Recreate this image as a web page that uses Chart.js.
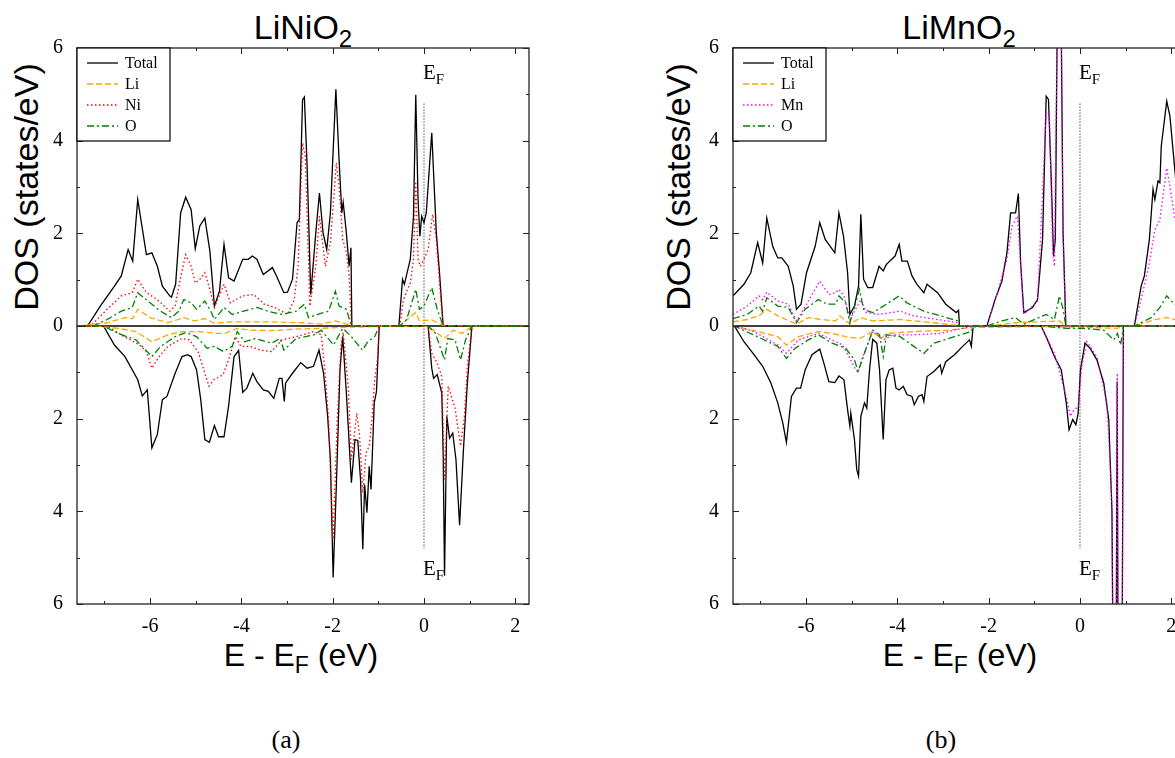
<!DOCTYPE html>
<html>
<head>
<meta charset="utf-8">
<script src="https://cdn.jsdelivr.net/npm/chart.js@4.4.0/dist/chart.umd.min.js"></script>
<style>
    html, body { margin: 0; padding: 0; background: #fff; width: 1175px; height: 758px; overflow: hidden; position: relative; }
    .panel { position: absolute; top: 0; width: 560px; height: 640px; }
    .title { position: absolute; top: 10px; font-family: 'Liberation Sans', Arial, sans-serif; font-size: 34px; line-height: 34px; white-space: nowrap; transform: translateX(-50%); }
    .title sub { font-size: 24px; line-height: 0; vertical-align: -8px; }
    .xlabel { position: absolute; top: 639px; font-family: 'Liberation Sans', Arial, sans-serif; font-size: 32px; line-height: 32px; white-space: nowrap; transform: translateX(-50%); }
    .xlabel sub { font-size: 23px; line-height: 0; vertical-align: -7px; }
    .ylabel { position: absolute; top: 187px; font-family: 'Liberation Sans', Arial, sans-serif; font-size: 34px; line-height: 34px; white-space: nowrap; transform: translate(-50%, -50%) rotate(-90deg); }
    .caption { position: absolute; top: 727px; font-family: 'Liberation Serif', 'Times New Roman', serif; font-size: 26px; line-height: 26px; transform: translateX(-50%); }
</style>
</head>
<body>
<div class="title" style="left:303px">LiNiO<sub>2</sub></div>
<div class="title" style="left:959px">LiMnO<sub>2</sub></div>
<div class="ylabel" style="left:26px">DOS (states/eV)</div>
<div class="ylabel" style="left:678px">DOS (states/eV)</div>
<div class="xlabel" style="left:301px">E - E<sub>F</sub> (eV)</div>
<div class="xlabel" style="left:960px">E - E<sub>F</sub> (eV)</div>
<div class="caption" style="left:286px">(a)</div>
<div class="caption" style="left:941px">(b)</div>

<div class="panel" style="left:0px"><canvas id="dosNi" width="560" height="640"></canvas></div>
<div class="panel" style="left:656px"><canvas id="dosMn" width="560" height="640"></canvas></div>

<script>
// axis limits and tick labels
const energyRange = [-7.6, 2.3];
const dosRange = [-6, 6];
const fermiLine = [[0, 4.8], [0, -4.8]];
const serifFamily = '"Liberation Serif", "Times New Roman", serif';

// ---- LiNiO2, spin up: [E - EF, DOS] ----
const niTotalUp = [[-7.6,0],[-7.37,0],[-7.09,0.43],[-6.78,0.86],[-6.63,1.08],[-6.48,1.65],[-6.38,1.40],[-6.27,2.73],[-6.08,1.54],[-5.96,1.58],[-5.84,1.29],[-5.73,0.86],[-5.57,0.65],[-5.53,0.62],[-5.44,0.90],[-5.33,2.44],[-5.22,2.78],[-5.10,2.51],[-5.01,1.67],[-4.91,2.16],[-4.80,2.33],[-4.69,1.62],[-4.59,0.43],[-4.48,0.75],[-4.38,1.76],[-4.28,1.04],[-4.16,0.97],[-3.97,1.44],[-3.85,1.44],[-3.76,1.51],[-3.66,1.44],[-3.52,1.11],[-3.32,1.26],[-3.23,1.08],[-3.07,0.72],[-2.99,0.73],[-2.88,1.01],[-2.78,2.23],[-2.73,2.30],[-2.66,4.88],[-2.62,4.94],[-2.56,3.45],[-2.48,0.68],[-2.37,2.01],[-2.29,2.87],[-2.21,2.01],[-2.13,1.65],[-2.05,2.44],[-1.93,5.11],[-1.86,3.59],[-1.80,2.44],[-1.77,2.67],[-1.70,2.01],[-1.64,1.29],[-1.60,1.69],[-1.58,0],[-0.55,0],[-0.47,1.01],[-0.43,0.90],[-0.30,1.44],[-0.23,2.37],[-0.18,4.99],[-0.13,2.73],[-0.09,1.94],[-0.05,2.37],[0,2.23],[0.05,2.44],[0.17,4.17],[0.27,2.01],[0.34,1.15],[0.42,0],[2.3,0]];
const niLiUp = [[-7.6,0],[-7.48,0.01],[-6.94,0.07],[-6.55,0.18],[-6.38,0.16],[-6.27,0.36],[-6.0,0.18],[-5.61,0.07],[-5.26,0.18],[-5.02,0.11],[-4.80,0.16],[-4.59,0.06],[-4.20,0.09],[-3.42,0.09],[-2.64,0.07],[-2.25,0.04],[-1.94,0.11],[-1.59,0.01],[-0.53,0.01],[-0.18,0.29],[-0.10,0.11],[0.17,0.13],[0.42,0.01],[2.3,0]];
const niNiUp = [[-7.6,0],[-7.3,0],[-6.94,0.36],[-6.63,0.65],[-6.39,0.72],[-6.27,1.01],[-6.08,0.72],[-5.84,0.57],[-5.57,0.32],[-5.45,0.43],[-5.34,1.01],[-5.22,1.54],[-5.10,1.29],[-5.01,0.93],[-4.91,1.01],[-4.80,1.15],[-4.69,0.79],[-4.59,0.40],[-4.38,0.90],[-4.24,0.50],[-3.97,0.65],[-3.73,0.68],[-3.50,0.47],[-3.27,0.40],[-2.99,0.25],[-2.84,0.57],[-2.76,1.29],[-2.66,3.95],[-2.60,3.66],[-2.50,0.43],[-2.37,1.29],[-2.29,2.37],[-2.16,1.29],[-2.05,1.80],[-1.92,3.52],[-1.86,3.02],[-1.78,1.87],[-1.70,1.58],[-1.64,1.08],[-1.59,0],[-0.53,0],[-0.45,0.57],[-0.30,0.93],[-0.23,1.44],[-0.18,3.12],[-0.13,1.44],[-0.08,1.29],[0,1.44],[0.09,1.65],[0.19,2.41],[0.27,1.87],[0.37,0.57],[0.42,0],[2.3,0]];
const niOUp = [[-7.6,0],[-7.25,0],[-6.94,0.14],[-6.63,0.32],[-6.39,0.40],[-6.27,0.72],[-6.0,0.50],[-5.77,0.32],[-5.53,0.18],[-5.37,0.32],[-5.26,0.57],[-5.10,0.50],[-4.98,0.36],[-4.80,0.54],[-4.67,0.32],[-4.59,0.14],[-4.38,0.40],[-4.20,0.25],[-3.81,0.36],[-3.66,0.40],[-3.42,0.32],[-3.11,0.25],[-2.80,0.32],[-2.62,0.47],[-2.53,0.18],[-2.33,0.25],[-2.09,0.32],[-1.94,0.75],[-1.86,0.43],[-1.70,0.36],[-1.59,0],[-0.53,0],[-0.38,0.14],[-0.18,0.79],[-0.10,0.36],[0,0.43],[0.17,0.83],[0.29,0.36],[0.42,0],[2.3,0]];

// ---- LiNiO2, spin down (magnitudes, plotted below zero) ----
const niTotalDown = [[-7.6,0],[-7.02,0],[-6.78,0.41],[-6.55,0.66],[-6.27,1.16],[-6.17,1.51],[-6.06,1.38],[-5.96,2.63],[-5.84,2.34],[-5.73,1.59],[-5.63,1.52],[-5.45,1.02],[-5.30,0.66],[-5.18,0.62],[-5.10,0.66],[-4.98,0.95],[-4.89,1.59],[-4.80,2.45],[-4.70,2.51],[-4.59,2.15],[-4.50,2.39],[-4.38,2.39],[-4.28,1.73],[-4.16,0.66],[-4.06,0.53],[-3.97,1.43],[-3.88,1.34],[-3.75,1.02],[-3.66,1.20],[-3.52,1.38],[-3.41,1.41],[-3.29,1.56],[-3.17,1.13],[-3.11,1.13],[-3.06,1.63],[-3.03,1.23],[-2.88,1.02],[-2.70,0.79],[-2.56,0.91],[-2.42,0.87],[-2.30,0.52],[-2.20,1.02],[-2.11,1.95],[-2.05,2.88],[-1.99,5.43],[-1.92,3.46],[-1.84,0.95],[-1.78,0.22],[-1.70,1.45],[-1.59,3.38],[-1.51,2.45],[-1.45,2.47],[-1.39,3.31],[-1.34,4.82],[-1.30,3.42],[-1.25,4.03],[-1.20,3.03],[-1.16,3.53],[-1.09,1.66],[-1.04,1.41],[-0.98,0],[0.09,0],[0.17,0.91],[0.21,1.13],[0.29,1.05],[0.39,1.45],[0.42,2.74],[0.45,5.39],[0.50,1.95],[0.56,2.42],[0.63,2.31],[0.70,2.88],[0.78,4.30],[0.86,2.74],[0.95,1.23],[1.05,0],[2.3,0]];
const niLiDown = [[-7.6,0],[-7.17,0],[-6.70,0.05],[-6.31,0.12],[-5.96,0.34],[-5.61,0.19],[-5.30,0.12],[-4.91,0.12],[-4.59,0.16],[-4.36,0.16],[-4.09,0.05],[-3.81,0.09],[-3.34,0.10],[-2.88,0.07],[-2.25,0.05],[-1.78,0.03],[-0.98,0.01],[0.09,0.01],[0.45,0.27],[0.64,0.09],[0.84,0.16],[1.05,0.01],[2.3,0]];
const niNiDown = [[-7.6,0],[-6.94,0],[-6.63,0.19],[-6.23,0.41],[-6.08,0.55],[-5.96,0.91],[-5.80,0.66],[-5.61,0.44],[-5.30,0.27],[-5.14,0.30],[-4.95,0.55],[-4.80,1.02],[-4.71,1.30],[-4.59,1.15],[-4.40,1.05],[-4.28,0.73],[-4.13,0.23],[-4.01,0.44],[-3.81,0.44],[-3.58,0.52],[-3.34,0.55],[-3.11,0.30],[-2.80,0.23],[-2.41,0.12],[-2.25,0.19],[-2.17,0.95],[-2.09,2.02],[-1.99,4.60],[-1.90,2.02],[-1.82,0.44],[-1.77,0.14],[-1.66,1.30],[-1.59,2.88],[-1.47,1.88],[-1.41,2.38],[-1.34,3.60],[-1.27,2.74],[-1.20,2.59],[-1.14,2.02],[-1.08,1.16],[-1.02,0.73],[-0.98,0],[0.09,0],[0.17,0.59],[0.29,0.80],[0.39,1.09],[0.45,3.31],[0.53,1.30],[0.60,1.52],[0.68,1.77],[0.80,2.59],[0.88,2.02],[0.95,0.87],[1.05,0],[2.3,0]];
const niODown = [[-7.6,0],[-7.02,0],[-6.70,0.16],[-6.31,0.30],[-5.96,0.66],[-5.77,0.44],[-5.45,0.23],[-5.22,0.14],[-4.98,0.23],[-4.75,0.48],[-4.59,0.44],[-4.40,0.55],[-4.20,0.44],[-4.09,0.12],[-3.93,0.34],[-3.70,0.27],[-3.34,0.37],[-3.15,0.27],[-3.07,0.52],[-2.80,0.27],[-2.41,0.19],[-2.25,0.09],[-1.98,0.41],[-1.78,0.05],[-1.59,0.23],[-1.35,0.52],[-1.23,0.34],[-1.08,0.23],[-0.98,0],[0.09,0],[0.25,0.16],[0.45,0.73],[0.52,0.27],[0.68,0.30],[0.80,0.73],[0.91,0.30],[1.05,0],[2.3,0]];

// ---- LiMnO2, spin up ----
const mnTotalUp = [[-7.6,0.66],[-7.57,0.68],[-7.36,0.90],[-7.21,1.15],[-7.06,1.80],[-6.95,1.36],[-6.86,2.33],[-6.73,1.72],[-6.62,1.47],[-6.53,1.47],[-6.39,1.29],[-6.28,0.86],[-6.21,0.36],[-6.11,0.47],[-5.99,1.15],[-5.80,1.72],[-5.70,2.23],[-5.58,1.87],[-5.37,1.58],[-5.28,2.44],[-5.18,1.94],[-5.09,1.15],[-5.04,0.25],[-4.94,0.43],[-4.85,0.86],[-4.80,2.41],[-4.74,1.01],[-4.65,0.83],[-4.54,0.83],[-4.40,1.29],[-4.31,1.19],[-4.24,1.33],[-4.05,1.51],[-3.96,1.76],[-3.90,1.40],[-3.78,1.40],[-3.68,1.08],[-3.57,0.90],[-3.42,0.72],[-3.35,0.90],[-3.12,0.72],[-2.94,0.47],[-2.71,0.29],[-2.66,0.34],[-2.64,0],[-2.04,0],[-1.86,0.57],[-1.71,0.97],[-1.60,1.58],[-1.52,2.44],[-1.41,2.44],[-1.35,2.86],[-1.30,1.36],[-1.23,0.29],[-1.04,0.40],[-0.93,0.57],[-0.82,1.87],[-0.74,4.96],[-0.69,4.89],[-0.62,2.87],[-0.58,1.51],[-0.54,1.87],[-0.49,7.5],[-0.42,7.5],[-0.37,2.01],[-0.31,0],[1.19,0],[1.34,0.86],[1.41,1.08],[1.52,1.87],[1.60,2.95],[1.64,2.73],[1.71,3.13],[1.75,3.09],[1.78,3.88],[1.90,4.85],[1.97,4.53],[2.07,3.45],[2.15,2.6],[2.3,1.6]];
const mnLiUp = [[-7.6,0.09],[-7.29,0.14],[-7.03,0.22],[-6.86,0.36],[-6.62,0.22],[-6.21,0.04],[-5.95,0.18],[-5.65,0.14],[-5.35,0.11],[-5.26,0.22],[-5.04,0.04],[-4.80,0.18],[-4.54,0.11],[-3.94,0.14],[-3.20,0.07],[-2.64,0.01],[-2.04,0],[-1.41,0.07],[-0.45,0.11],[-0.31,0],[1.19,0],[1.64,0.14],[1.90,0.18],[2.07,0.14],[2.3,0.12]];
const mnMnUp = [[-7.6,0.25],[-7.29,0.43],[-7.03,0.65],[-6.95,0.57],[-6.86,0.73],[-6.62,0.54],[-6.39,0.47],[-6.21,0.11],[-5.99,0.47],[-5.70,0.97],[-5.50,0.68],[-5.35,0.72],[-5.28,0.79],[-5.17,0.65],[-5.04,0.14],[-4.80,0.57],[-4.68,0.29],[-4.39,0.25],[-3.94,0.32],[-3.65,0.22],[-3.12,0.14],[-2.68,0.07],[-2.64,0],[-2.04,0],[-1.86,0.54],[-1.60,1.44],[-1.49,2.16],[-1.37,2.37],[-1.23,0.25],[-0.93,0.54],[-0.74,4.60],[-0.67,4.60],[-0.60,1.65],[-0.56,1.29],[-0.49,7.5],[-0.42,7.5],[-0.37,1.87],[-0.31,0],[1.19,0],[1.34,0.57],[1.52,1.36],[1.64,2.08],[1.75,2.30],[1.90,3.41],[1.97,3.02],[2.07,2.37],[2.3,1.2]];
const mnOUp = [[-7.6,0.16],[-7.29,0.25],[-7.03,0.43],[-6.95,0.32],[-6.86,0.61],[-6.62,0.43],[-6.39,0.40],[-6.21,0.07],[-6.02,0.36],[-5.73,0.57],[-5.54,0.47],[-5.35,0.47],[-5.28,0.65],[-5.13,0.50],[-5.04,0.07],[-4.83,0.79],[-4.74,0.36],[-4.54,0.29],[-4.24,0.47],[-3.96,0.65],[-3.79,0.50],[-3.42,0.32],[-3.05,0.22],[-2.68,0.11],[-2.64,0],[-2.04,0],[-1.71,0.11],[-1.41,0.18],[-1.23,0.04],[-0.74,0.25],[-0.56,0.14],[-0.45,0.65],[-0.37,0.36],[-0.31,0],[1.19,0],[1.56,0.18],[1.75,0.40],[1.90,0.65],[2.07,0.47],[2.3,0.3]];

// ---- LiMnO2, spin down (magnitudes) ----
const mnTotalDown = [[-7.6,0],[-7.57,0],[-7.36,0.34],[-7.14,0.62],[-6.95,0.87],[-6.77,1.23],[-6.62,1.66],[-6.51,2.09],[-6.43,2.51],[-6.32,1.52],[-6.21,1.34],[-6.12,1.34],[-6.02,0.95],[-5.87,0.62],[-5.70,0.50],[-5.61,0.80],[-5.50,1.20],[-5.37,1.22],[-5.28,1.08],[-5.17,1.16],[-5.09,1.81],[-5.04,2.16],[-5.02,1.88],[-4.94,2.45],[-4.89,3.10],[-4.85,3.24],[-4.80,1.95],[-4.72,1.66],[-4.67,1.77],[-4.61,0.95],[-4.54,0.29],[-4.45,0.37],[-4.39,0.95],[-4.31,2.45],[-4.25,1.16],[-4.18,0.95],[-4.10,0.91],[-4.03,1.34],[-3.96,1.38],[-3.87,1.30],[-3.79,1.48],[-3.68,1.52],[-3.63,1.70],[-3.54,1.52],[-3.46,1.48],[-3.42,1.63],[-3.35,1.09],[-3.20,0.98],[-3.06,0.84],[-3.03,1.02],[-2.94,0.77],[-2.75,0.62],[-2.57,0.44],[-2.42,0.30],[-2.38,0.44],[-2.34,0],[-0.85,0],[-0.71,0.30],[-0.56,0.66],[-0.41,0.95],[-0.30,1.66],[-0.24,2.24],[-0.16,2.02],[-0.09,2.13],[-0.04,1.88],[0.01,0.95],[0.11,0.37],[0.22,0.48],[0.37,0.73],[0.52,1.23],[0.63,2.02],[0.70,4.0],[0.73,8],[0.79,8],[0.815,1.2],[0.835,8],[0.92,8],[0.95,0],[2.3,0]];
const mnLiDown = [[-7.6,0],[-7.57,0],[-7.06,0.12],[-6.62,0.23],[-6.43,0.41],[-6.17,0.23],[-5.73,0.12],[-5.43,0.16],[-5.13,0.23],[-4.83,0.27],[-4.54,0.12],[-4.35,0.27],[-4.24,0.16],[-3.64,0.12],[-2.90,0.09],[-2.34,0.03],[-0.85,0.01],[0.07,0.03],[0.82,0.05],[0.95,0],[2.3,0]];
const mnMnDown = [[-7.6,0],[-7.57,0],[-7.14,0.12],[-6.62,0.41],[-6.43,0.59],[-6.17,0.30],[-5.73,0.16],[-5.43,0.30],[-5.20,0.41],[-5.06,0.66],[-4.91,0.95],[-4.86,1.00],[-4.76,0.66],[-4.54,0.12],[-4.31,0.30],[-4.09,0.19],[-3.64,0.19],[-3.05,0.16],[-2.34,0],[-0.85,0],[-0.56,0.59],[-0.30,1.52],[-0.21,1.95],[-0.15,1.84],[-0.04,1.73],[0.04,0.87],[0.15,0.34],[0.37,0.66],[0.59,1.66],[0.70,3.81],[0.73,8],[0.79,8],[0.815,1.02],[0.835,8],[0.92,8],[0.95,0],[2.3,0]];
const mnODown = [[-7.6,0],[-7.57,0],[-6.98,0.27],[-6.62,0.44],[-6.43,0.70],[-6.24,0.48],[-5.95,0.30],[-5.73,0.19],[-5.43,0.37],[-5.13,0.48],[-4.94,0.73],[-4.86,0.98],[-4.72,0.59],[-4.54,0.09],[-4.39,0.19],[-4.31,0.66],[-4.24,0.19],[-3.94,0.23],[-3.64,0.44],[-3.42,0.59],[-3.20,0.37],[-2.75,0.23],[-2.38,0.12],[-2.34,0],[-0.85,0],[-0.30,0.05],[0.07,0.05],[0.52,0.09],[0.74,0.30],[0.82,0.16],[0.89,0.41],[0.95,0],[2.3,0]];

const lineStyles = {
    Total: { color: '#000000', dash: [] },
    Li: { color: '#FFA500', dash: [6, 3] },
    Ni: { color: '#FF0000', dash: [1.5, 2.5] },
    Mn: { color: '#FF00FF', dash: [1.5, 2.5] },
    O: { color: '#008000', dash: [7, 3, 2, 3] }
};

// frame, inward ticks, zero line, E_F labels and the boxed legend
const dosDecor = {
    id: 'dosDecor',
    beforeDatasetsDraw(chart) {
        const { ctx, chartArea: a, scales: { y } } = chart;
        const y0 = y.getPixelForValue(0);
        ctx.save();
        ctx.strokeStyle = '#000';
        ctx.lineWidth = 1.3;
        ctx.beginPath();
        ctx.moveTo(a.left, y0);
        ctx.lineTo(a.right, y0);
        ctx.stroke();
        ctx.restore();
    },
    afterDatasetsDraw(chart, args, opts) {
        const { ctx, chartArea: a, scales: { x, y } } = chart;
        ctx.save();
        ctx.strokeStyle = '#222';
        ctx.lineWidth = 1.3;
        ctx.strokeRect(a.left, a.top, a.right - a.left, a.bottom - a.top);

        // ticks point into the plot, on all four sides
        ctx.lineWidth = 1;
        ctx.beginPath();
        x.ticks.forEach(t => {
            const px = Math.round(x.getPixelForValue(t.value)) + 0.5;
            const len = t.value % 2 === 0 ? 6 : 3;
            ctx.moveTo(px, a.bottom); ctx.lineTo(px, a.bottom - len);
            ctx.moveTo(px, a.top); ctx.lineTo(px, a.top + len);
        });
        y.ticks.forEach(t => {
            const py = Math.round(y.getPixelForValue(t.value)) + 0.5;
            const len = t.value % 2 === 0 ? 6 : 3;
            ctx.moveTo(a.left, py); ctx.lineTo(a.left + len, py);
            ctx.moveTo(a.right, py); ctx.lineTo(a.right - len, py);
        });
        ctx.stroke();

        // E_F markers
        ctx.fillStyle = '#000';
        ctx.textBaseline = 'alphabetic';
        [5.33, -5.37].forEach(v => {
            const px = x.getPixelForValue(0) - 1;
            const py = y.getPixelForValue(v);
            ctx.font = '21px ' + serifFamily;
            ctx.fillText('E', px, py);
            const w = ctx.measureText('E').width;
            ctx.font = '15px ' + serifFamily;
            ctx.fillText('F', px + w, py + 5);
        });

        // legend box
        const bx = a.left, by = a.top;
        ctx.fillStyle = '#fff';
        ctx.fillRect(bx, by, 93, 93);
        ctx.strokeStyle = '#000';
        ctx.lineWidth = 1.2;
        ctx.strokeRect(bx, by, 93, 93);
        ctx.font = '16px ' + serifFamily;
        ctx.textBaseline = 'middle';
        opts.items.forEach((name, i) => {
            const st = lineStyles[name];
            const ry = by + 15 + i * 21;
            ctx.strokeStyle = st.color;
            ctx.lineWidth = 1.3;
            ctx.setLineDash(st.dash);
            ctx.beginPath();
            ctx.moveTo(bx + 10, ry);
            ctx.lineTo(bx + 41, ry);
            ctx.stroke();
            ctx.setLineDash([]);
            ctx.fillStyle = '#000';
            ctx.fillText(name, bx + 48, ry + 1);
        });
        ctx.restore();
    }
};

function toPoints(pairs, sign) {
    return pairs.map(p => ({ x: p[0], y: sign * p[1] }));
}

function makeDataset(name, pairs, sign, order) {
    const st = lineStyles[name];
    return {
        label: name,
        data: toPoints(pairs, sign),
        borderColor: st.color,
        borderDash: st.dash,
        borderWidth: 1.3,
        pointRadius: 0,
        tension: 0,
        fill: false,
        order: order
    };
}

function drawDosChart(canvasId, metal, up, down) {
    const names = ['Total', 'Li', metal, 'O'];
    const datasets = [];
    names.forEach((name, i) => {
        datasets.push(makeDataset(name, up[i], 1, 4 - i));
        datasets.push(makeDataset(name, down[i], -1, 4 - i));
    });
    datasets.push({
        label: 'EF',
        data: toPoints(fermiLine, 1),
        borderColor: '#000',
        borderDash: [1, 2],
        borderWidth: 1,
        pointRadius: 0,
        order: 6
    });

    const ctx = document.getElementById(canvasId).getContext('2d');
    new Chart(ctx, {
        type: 'line',
        data: { datasets: datasets },
        plugins: [dosDecor],
        options: {
            responsive: false,
            animation: false,
            devicePixelRatio: 1,
            layout: { padding: { left: 0, right: 31, top: 48, bottom: 0 } },
            scales: {
                x: {
                    type: 'linear',
                    min: energyRange[0],
                    max: energyRange[1],
                    grid: { display: false, drawTicks: false },
                    border: { display: false },
                    ticks: {
                        stepSize: 1,
                        includeBounds: false,
                        autoSkip: false,
                        maxRotation: 0,
                        padding: 11,
                        color: '#000',
                        font: { family: serifFamily, size: 20 },
                        callback: v => (v % 2 === 0 ? String(v) : '')
                    },
                    afterFit: scale => { scale.height = 36; }
                },
                y: {
                    min: dosRange[0],
                    max: dosRange[1],
                    grid: { display: false, drawTicks: false },
                    border: { display: false },
                    ticks: {
                        stepSize: 1,
                        autoSkip: false,
                        padding: 14,
                        color: '#000',
                        font: { family: serifFamily, size: 20 },
                        callback: v => (v % 2 === 0 ? String(Math.abs(v)) : '')
                    },
                    afterFit: scale => { scale.width = 77; }
                }
            },
            plugins: {
                legend: { display: false },
                tooltip: { enabled: false },
                dosDecor: { items: names }
            }
        }
    });
}

drawDosChart('dosNi', 'Ni',
    [niTotalUp, niLiUp, niNiUp, niOUp],
    [niTotalDown, niLiDown, niNiDown, niODown]);
drawDosChart('dosMn', 'Mn',
    [mnTotalUp, mnLiUp, mnMnUp, mnOUp],
    [mnTotalDown, mnLiDown, mnMnDown, mnODown]);
</script>
</body>
</html>
